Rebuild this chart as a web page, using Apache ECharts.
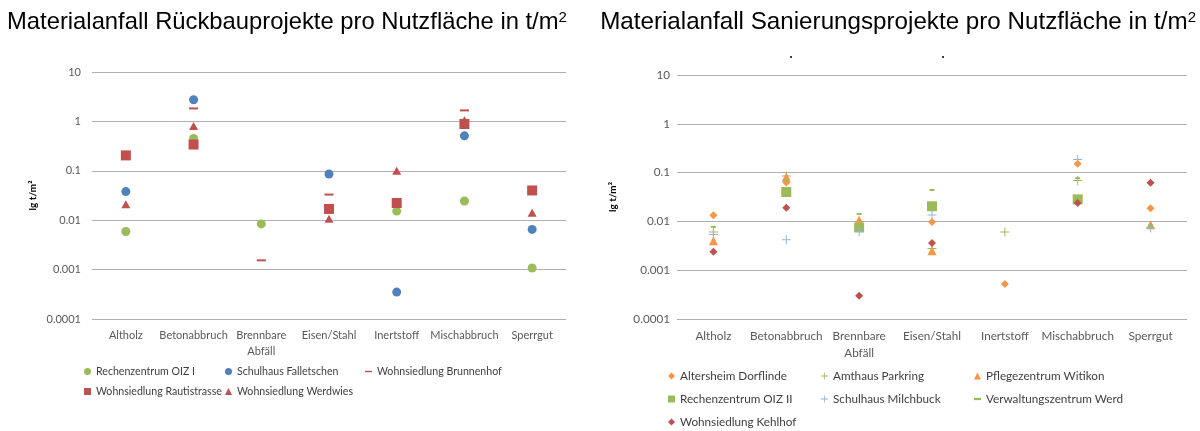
<!DOCTYPE html>
<html><head><meta charset="utf-8">
<script src="https://cdn.jsdelivr.net/npm/echarts@6/dist/echarts.min.js"></script>
<style>html,body{margin:0;padding:0;background:#fff}#c{width:1200px;height:431px}</style>
</head><body><div id="c"></div>
<script>
// ---------- data ----------
const categories = ['Altholz', 'Betonabbruch', 'Brennbare\nAbfäll', 'Eisen/Stahl', 'Inertstoff', 'Mischabbruch', 'Sperrgut'];
const yTickLabels = ['0.0001', '0.001', '0.01', '0.1', '1', '10'];

// Chart 1: Rückbauprojekte
const rechenzentrumOIZ1   = [0.0059, 0.45, 0.0084, null, 0.0153, 0.0245, 0.00108];
const schulhausFalletschen = [0.038, 2.75, null, 0.086, 0.00035, 0.51, 0.0065];
const wohnsiedlungBrunnenhof = [null, 1.83, 0.00154, 0.033, null, 1.67, null];
const wohnsiedlungRautistrasse = [0.205, 0.34, null, 0.0169, 0.0223, 0.885, 0.040];
const wohnsiedlungWerdwies = [0.021, 0.81, null, 0.0107, 0.1, 1.05, 0.0142];

// Chart 2: Sanierungsprojekte
const altersheimDorflinde = [0.0133, 0.063, null, 0.0097, 0.00052, 0.152, 0.0185];
const amthausParkring = [0.0061, 0.085, null, 0.0028, 0.0061, 0.069, null];
const pflegezentrumWitikon = [0.004, 0.081, 0.0107, 0.0025, null, null, 0.0085];
const rechenzentrumOIZ2 = [null, 0.040, 0.0075, 0.0204, null, 0.0283, null];
const schulhausMilchbuck = [0.0054, 0.0042, 0.0062, 0.0135, null, 0.186, 0.0073];
const verwaltungszentrumWerd = [0.0077, 0.070, 0.0142, 0.044, null, 0.077, 0.0083];
const wohnsiedlungKehlhof = [0.0024, 0.019, 0.0003, 0.0036, null, 0.0238, 0.062];

// ---------- styles ----------
const GREEN = '#9BBB59', BLUE = '#4F81BD', RED = '#C0504D', ORANGE = '#F79646', LBLUE = '#95B3D7';
const PLUS = 'path://M4,0h1v9h-1zM0,4h9v1h-9z';
const DASH1 = 'path://M0,0h10v2h-10z';
const DASH2 = 'path://M0,0h6v2h-6z';
const FONT = 'Lato';

const chart1 = [
  {name: 'Rechenzentrum OIZ I', data: rechenzentrumOIZ1, symbol: 'circle', size: 9, color: GREEN, z: 3},
  {name: 'Schulhaus Falletschen', data: schulhausFalletschen, symbol: 'circle', size: 9, color: BLUE, z: 3},
  {name: 'Wohnsiedlung Brunnenhof', data: wohnsiedlungBrunnenhof, symbol: 'rect', size: [9, 2], color: RED, z: 3, icon: DASH1},
  {name: 'Wohnsiedlung Rautistrasse', data: wohnsiedlungRautistrasse, symbol: 'rect', size: 10, color: RED, z: 3},
  {name: 'Wohnsiedlung Werdwies', data: wohnsiedlungWerdwies, symbol: 'triangle', size: [9, 8], color: RED, z: 2}
];
const chart2 = [
  {name: 'Altersheim Dorflinde', data: altersheimDorflinde, symbol: 'diamond', size: 8, color: ORANGE, z: 3},
  {name: 'Amthaus Parkring', data: amthausParkring, symbol: PLUS, size: 9, color: GREEN, z: 3, icon: PLUS},
  {name: 'Pflegezentrum Witikon', data: pflegezentrumWitikon, symbol: 'triangle', size: [9, 9], color: ORANGE, z: 3},
  {name: 'Rechenzentrum OIZ II', data: rechenzentrumOIZ2, symbol: 'rect', size: 10, color: GREEN, z: 3},
  {name: 'Schulhaus Milchbuck', data: schulhausMilchbuck, symbol: PLUS, size: 9, color: LBLUE, z: 3, icon: PLUS},
  {name: 'Verwaltungszentrum Werd', data: verwaltungszentrumWerd, symbol: 'rect', size: [5, 2], color: GREEN, z: 3, icon: DASH2},
  {name: 'Wohnsiedlung Kehlhof', data: wohnsiedlungKehlhof, symbol: 'diamond', size: 8, color: RED, z: 3}
];

// legend positions [textLeft, centerY]
const legendPos1 = [[96, 373], [237, 373], [377, 373], [96, 393], [237, 393]];
const legendPos2 = [[680, 377], [833, 377], [986, 377], [680, 400], [833, 400], [986, 400], [680, 423]];

function fmt(v) { return String(+Number(v).toPrecision(1)); }

const series = [], legends = [];
function addSeries(list, idx, pos, fs) {
  list.forEach((s, i) => {
    series.push({
      type: 'scatter', name: s.name, xAxisIndex: idx, yAxisIndex: idx,
      data: s.data.map(v => v == null ? '-' : v),
      symbol: s.symbol, symbolSize: s.size, z: s.z,
      itemStyle: {color: s.color, opacity: 1}, emphasis: {disabled: true}, silent: true
    });
    const iw = 7;
    legends.push({
      data: [s.icon ? {name: s.name, icon: s.icon} : {name: s.name}],
      left: pos[i][0] - iw - 5, top: pos[i][1] - 7, padding: 0,
      itemWidth: iw, itemHeight: 7, selectedMode: false,
      textStyle: {fontFamily: FONT, fontSize: fs, color: '#404040'}
    });
  });
}
addSeries(chart1, 0, legendPos1, 10.6);
addSeries(chart2, 1, legendPos2, 11.7);

function xAxis(idx, fs, margin) {
  return {type: 'category', gridIndex: idx, data: categories,
    axisLine: {show: false}, axisTick: {show: false},
    axisLabel: {fontFamily: FONT, fontSize: fs, color: '#595959', margin: margin, interval: 0, lineHeight: fs + 5}};
}
function yAxis(idx, fs, gap, margin) {
  return {type: 'log', logBase: 10, gridIndex: idx, min: 0.0001, max: 10,
    axisLine: {show: false}, axisTick: {show: false},
    splitLine: {show: true, lineStyle: {color: '#AFAFAF', width: 1}},
    axisLabel: {fontFamily: FONT, fontSize: fs, color: '#595959', margin: margin,
      formatter: v => { const s = fmt(v); return yTickLabels.includes(s) ? s : ''; }},
    name: 'lg t/m²', nameLocation: 'middle', nameGap: gap, nameRotate: 90,
    nameTextStyle: {fontFamily: FONT, fontSize: 10, fontWeight: 'bold', color: '#000'}};
}

function titleStyle(fs) {
  return {fontFamily: 'Liberation Sans', fontSize: fs, fontWeight: 'normal', color: '#000',
    rich: {s: {fontFamily: 'Liberation Sans', fontSize: 15, verticalAlign: 'top', color: '#000'}}};
}

const option = {
  animation: false,
  title: [
    {text: 'Materialanfall Rückbauprojekte pro Nutzfläche in t/m{s|2}', left: 7, top: 10, padding: 0, textStyle: titleStyle(23.8)},
    {text: 'Materialanfall Sanierungsprojekte pro Nutzfläche in t/m{s|2}', right: 4, top: 10, padding: 0, textStyle: titleStyle(24.2)}
  ],
  grid: [
    {left: 92, top: 72, width: 474, height: 247},
    {left: 677, top: 75, width: 510, height: 244}
  ],
  xAxis: [xAxis(0, 11, 8), xAxis(1, 11.7, 9)],
  yAxis: [yAxis(0, 11, 54, 11), yAxis(1, 11.7, 59, 7)],
  legend: legends,
  series: series,
  graphic: [
    {type: 'circle', shape: {cx: 791, cy: 57, r: 1}, style: {fill: '#000'}},
    {type: 'circle', shape: {cx: 943, cy: 57, r: 1}, style: {fill: '#000'}}
  ]
};
const chart = echarts.init(document.getElementById('c'));
chart.setOption(option);
</script>
</body></html>
